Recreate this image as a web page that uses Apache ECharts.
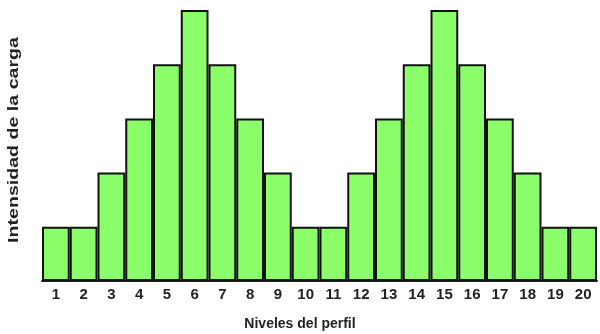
<!DOCTYPE html>
<html><head><meta charset="utf-8">
<script src="https://cdn.jsdelivr.net/npm/echarts@6/dist/echarts.min.js"></script>
<style>html,body{margin:0;padding:0;background:#fff}#c{width:600px;height:334px}</style>
</head><body><div id="c"></div>
<script>
const categories = ['1','2','3','4','5','6','7','8','9','10','11','12','13','14','15','16','17','18','19','20'];
const values = [1,1,2,3,4,5,4,3,2,1,1,2,3,4,5,4,3,2,1,1];
const xTitle = 'Niveles del perfil';
const yTitle = 'Intensidad de la carga';

const chart = echarts.init(document.getElementById('c'));
chart.setOption({
  animation: false,
  grid: {left: 42, right: 3, top: 10, bottom: 53},
  xAxis: {
    type: 'category', data: categories,
    axisLine: {show: true, lineStyle: {color: '#222', width: 2}},
    axisTick: {show: false},
    axisLabel: {color: '#222', fontWeight: 'bold', fontSize: 15, fontFamily: 'Liberation Sans, Arial', margin: 6}
  },
  yAxis: {
    type: 'value', min: 0, max: 5,
    axisLine: {show: false}, axisTick: {show: false}, axisLabel: {show: false}, splitLine: {show: false}
  },
  graphic: [{
    type: 'text', x: 14, y: 140, rotation: Math.PI / 2, scaleX: 1.4,
    style: {text: yTitle, fill: '#222', font: 'bold 14px "Liberation Sans", Arial', align: 'center', verticalAlign: 'middle'}
  }, {
    type: 'text', x: 300, y: 324,
    style: {text: xTitle, fill: '#222', font: 'bold 14px "Liberation Sans", Arial', align: 'center', verticalAlign: 'middle'}
  }],
  series: [{
    type: 'bar', data: values, barCategoryGap: '0%',
    itemStyle: {color: '#8aff6a', borderColor: '#111', borderWidth: 2}
  }]
});
</script></body></html>
